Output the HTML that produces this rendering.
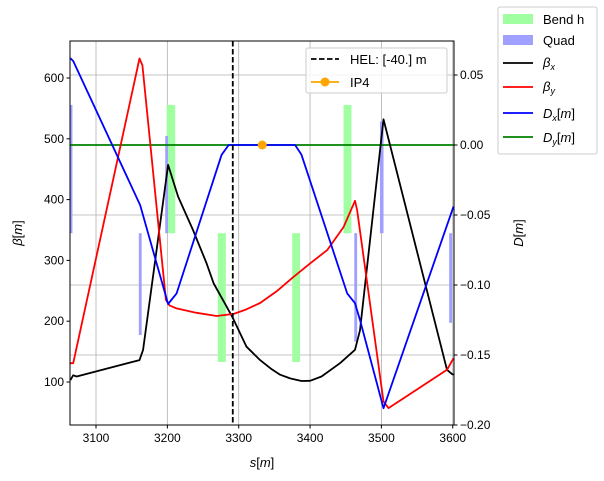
<!DOCTYPE html>
<html><head><meta charset="utf-8"><style>
body{margin:0;background:#fff;}
svg{display:block;font-family:"Liberation Sans","DejaVu Sans",sans-serif;}
</style></head><body>
<svg id="chart" width="604" height="481" viewBox="0 0 604 481" xmlns="http://www.w3.org/2000/svg"></svg>
<script>
const sTicks=[3100,3200,3300,3400,3500,3600];
const betaTicks=[100,200,300,400,500,600];
const dTicks=[0.05,0.00,-0.05,-0.10,-0.15,-0.20];
const dTickLabels=["0.05","0.00","\u22120.05","\u22120.10","\u22120.15","\u22120.20"];
const betaxS=[3064,3068,3073,3161,3166,3201,3215,3236,3255,3265,3283,3291,3311,3330,3345,3358,3372,3388,3400,3416,3442,3463,3470,3503,3592,3599,3601];
const betaxV=[103,111,109,136,153,457,405,350,295,262,224,207,158,136,122,112,106,101.6,102,109,131,153,185,532,120,113,112];
const betayS=[3064,3068,3161,3165,3198,3203,3213,3240,3269,3293,3310,3330,3353,3377,3400,3424,3447,3463,3466,3503,3510,3592,3601];
const betayV=[131,131,632,621,235,226,221,214,208.5,212,219,230,249,273,295,317,355,398,383,68,57,120,139];
const dxS=[3064,3068,3162,3201,3213,3276,3286,3379,3388,3452,3463,3470,3503,3601];
const dxV=[0.062,0.060,-0.043,-0.1136,-0.106,-0.007,0,0,-0.007,-0.106,-0.113,-0.125,-0.188,-0.044];
const dyS=[3063.6,3601];
const dyV=[0,0];
const bendS0=[3199,3270.7,3375,3447];
const bendS1=[3211,3282,3386,3458];
const bendTop=[0.0286,-0.063,-0.063,0.0286];
const bendBot=[-0.063,-0.155,-0.155,-0.063];
const quadS0=[3064,3160,3197,3462,3498,3595];
const quadS1=[3067,3164,3201,3466,3503,3599];
const quadTop=[0.0286,-0.063,0.0064,-0.063,0.0167,-0.063];
const quadBot=[-0.063,-0.1357,-0.063,-0.1405,-0.063,-0.127];
const helS=3291.7;
const ip4S=[3333];
const ip4D=[0];

const L=70,R=454,T=41,B=425;
const xs=s=>96+(s-3100)*0.7135;
const yb=b=>382-(b-100)*0.608;
const yd=d=>145-d*1400;
const NS="http://www.w3.org/2000/svg";
const svg=document.getElementById('chart');
function mk(tag,attrs,parent){const e=document.createElementNS(NS,tag);for(const k in attrs)e.setAttribute(k,attrs[k]);(parent||svg).appendChild(e);return e;}

const defs=mk('defs',{});const cp=mk('clipPath',{id:'clip'},defs);mk('rect',{x:L,y:T,width:R-L,height:B-T},cp);

const grid=mk('g',{});


sTicks.forEach(s=>{const x=xs(s);if(x>L&&x<R)mk('line',{x1:x,x2:x,y1:T,y2:B,stroke:'#b0b0b0','stroke-width':0.8},grid);});
dTicks.forEach(d=>{const y=yd(d);if(y>T&&y<B)mk('line',{x1:L,x2:R,y1:y,y2:y,stroke:'#b0b0b0','stroke-width':0.8},grid);});

const plot=mk('g',{'clip-path':'url(#clip)'});
for(let i=0;i<bendS0.length;i++){
 const r=mk('rect',{x:xs(bendS0[i]),y:yd(bendTop[i]),width:xs(bendS1[i])-xs(bendS0[i]),height:yd(bendBot[i])-yd(bendTop[i]),fill:'#a0ffa0'},plot);
 
 
}
for(let i=0;i<quadS0.length;i++){
 const r=mk('rect',{x:xs(quadS0[i]),y:yd(quadTop[i]),width:xs(quadS1[i])-xs(quadS0[i]),height:yd(quadBot[i])-yd(quadTop[i]),fill:'#a0a0ff'},plot);
 
 
}
function line(S,V,fy,color,name){
 const p=mk('polyline',{points:S.map((s,i)=>xs(s).toFixed(1)+','+fy(V[i]).toFixed(1)).join(' '),fill:'none',stroke:color,'stroke-width':1.8,'stroke-linejoin':'round'},plot);
 
 
}
line(dyS,dyV,yd,'green','dy-line');
line(betaxS,betaxV,yb,'black','beta-x-line');
line(betayS,betayV,yb,'red','beta-y-line');
line(dxS,dxV,yd,'blue','dx-line');
const hel=mk('line',{x1:xs(helS),x2:xs(helS),y1:T,y2:B,stroke:'black','stroke-width':1.8,'stroke-dasharray':'5.5,2.5'},plot);


ip4S.forEach((s,i)=>{const c=mk('circle',{cx:xs(s),cy:yd(ip4D[i]),r:4.5,fill:'orange'},plot);
 
 });

const fr=mk('rect',{x:L,y:T,width:R-L,height:B-T,fill:'none',stroke:'black','stroke-width':1});



sTicks.forEach(s=>{const x=xs(s);mk('line',{x1:x,x2:x,y1:B,y2:B+3.5,stroke:'black'});
 const t=mk('text',{x:x,y:B+17,'font-size':12,'text-anchor':'middle'});t.textContent=s;
 
 });
betaTicks.forEach(b=>{const y=yb(b);mk('line',{x1:L-3.5,x2:L,y1:y,y2:y,stroke:'black'});
 const t=mk('text',{x:L-6,y:y+4,'font-size':12,'text-anchor':'end'});t.textContent=b;
 
 });
dTicks.forEach((d,i)=>{const y=yd(d);mk('line',{x1:R,x2:R+3.5,y1:y,y2:y,stroke:'black'});
 const t=mk('text',{x:R+6,y:y+4,'font-size':12});t.textContent=dTickLabels[i];
 
 });
</script>
<svg style="position:absolute;left:0;top:0" width="604" height="481" font-family="Liberation Sans, DejaVu Sans, sans-serif">
 <text x="262" y="467" font-size="13" text-anchor="middle"><tspan font-style="italic">s</tspan>[<tspan font-style="italic">m</tspan>]</text>
 <text transform="translate(22,233) rotate(-90)" font-size="13" text-anchor="middle"><tspan font-style="italic">β</tspan>[<tspan font-style="italic">m</tspan>]</text>
 <text transform="translate(523,233) rotate(-90)" font-size="13" text-anchor="middle"><tspan font-style="italic">D</tspan>[<tspan font-style="italic">m</tspan>]</text>
 <g>
  <rect x="306" y="48" width="141" height="45" rx="2" fill="#fff" fill-opacity="0.8" stroke="#ccc"/>
  <line x1="311" x2="339" y1="59" y2="59" stroke="black" stroke-width="1.8" stroke-dasharray="5.5,2.5"/>
  <text x="350" y="64" font-size="13">HEL: [-40.] m</text>
  <line x1="311" x2="339" y1="82" y2="82" stroke="orange" stroke-width="1.8"/>
  <circle cx="325" cy="82" r="4.5" fill="orange"/>
  <text x="350" y="87" font-size="13">IP4</text>
 </g>
 <g>
  <rect x="498" y="7" width="99" height="147" rx="2" fill="#fff" stroke="#ccc"/>
  <rect x="503" y="14" width="30" height="10" fill="#a0ffa0"/>
  <text x="543" y="24" font-size="13">Bend h</text>
  <rect x="503" y="35" width="30" height="10" fill="#a0a0ff"/>
  <text x="543" y="45" font-size="13">Quad</text>
  <line x1="503" x2="533" y1="63" y2="63" stroke="black" stroke-width="1.8"/>
  <text x="543" y="67" font-size="13" font-style="italic">β<tspan font-size="9" dy="3">x</tspan></text>
  <line x1="503" x2="533" y1="87" y2="87" stroke="red" stroke-width="1.8"/>
  <text x="543" y="91" font-size="13" font-style="italic">β<tspan font-size="9" dy="3">y</tspan></text>
  <line x1="503" x2="533" y1="113" y2="113" stroke="blue" stroke-width="1.8"/>
  <text x="543" y="118" font-size="13"><tspan font-style="italic">D</tspan><tspan font-size="9" dy="3" font-style="italic">x</tspan><tspan dy="-3">[</tspan><tspan font-style="italic">m</tspan>]</text>
  <line x1="503" x2="533" y1="137" y2="137" stroke="green" stroke-width="1.8"/>
  <text x="543" y="142" font-size="13"><tspan font-style="italic">D</tspan><tspan font-size="9" dy="3" font-style="italic">y</tspan><tspan dy="-3">[</tspan><tspan font-style="italic">m</tspan>]</text>
 </g>
</svg>
</body></html>
